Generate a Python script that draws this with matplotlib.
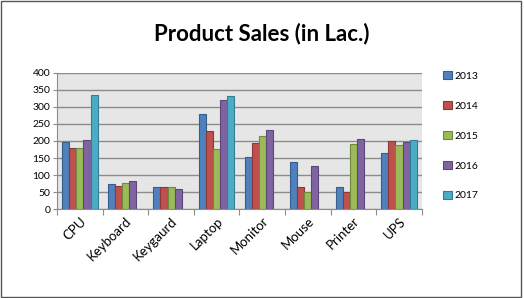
import numpy as np
import matplotlib.pyplot as plt
from matplotlib.patches import Rectangle

plt.rcParams['font.family'] = ['Lato', 'DejaVu Sans']

products = ['CPU', 'Keyboard', 'Keygaurd', 'Laptop', 'Monitor', 'Mouse', 'Printer', 'UPS']
years = ['2013', '2014', '2015', '2016', '2017']
# sales per year, nan where no bar
s2013 = [198, 73, 64, 280, 152, 139, 64, 166]
s2014 = [178, 67, 64, 229, 193, 64, 50, 200]
s2015 = [178, 77, 65, 175, 215, 50, 191, 187]
s2016 = [202, 83, 58, 319, 231, 127, 207, 198]
s2017 = [335, np.nan, np.nan, 331, np.nan, np.nan, np.nan, 202]
series = [s2013, s2014, s2015, s2016, s2017]

colors = ['#4F81BD', '#C0504D', '#9BBB59', '#8064A2', '#4BACC6']
edges = ['#385D8A', '#8C3836', '#71893F', '#5C4776', '#357D91']

fig = plt.figure(figsize=(5.24, 2.98), dpi=100)
fig.patches.append(Rectangle((0.002, 0.003), 0.992, 0.994, transform=fig.transFigure,
                             fill=False, edgecolor='#555555', linewidth=1))
ax = fig.add_axes([0.109, 0.298, 0.696, 0.458])
ax.set_facecolor('#e6e6e6')

x = np.arange(len(products))
w = 0.155
for i, (vals, yr) in enumerate(zip(series, years)):
    ax.bar(x + (i - 2) * w, vals, width=w, color=colors[i], edgecolor=edges[i],
           linewidth=0.8, label=yr, zorder=3)

ax.set_xlim(-0.5, len(products) - 0.5)
ax.set_ylim(0, 400)
ax.set_yticks(np.arange(0, 401, 50))
ax.yaxis.grid(True, color='#8c8c8c', linewidth=1, zorder=0)
ax.set_xticks(np.arange(-0.5, len(products), 1))
ax.set_xticklabels([])
ax.set_xticks(x, minor=True)
ax.set_xticklabels(products, minor=True, rotation=45, ha='right', rotation_mode='anchor', fontsize=9.5)
ax.tick_params(axis='x', which='minor', length=0, pad=4)
ax.tick_params(axis='x', which='major', length=4, color='#8c8c8c')
ax.tick_params(axis='y', labelsize=7.5, length=3, color='#8c8c8c', pad=2)
for side in ['top', 'right']:
    ax.spines[side].set_visible(False)
ax.spines['left'].set_color('#8c8c8c')
ax.spines['bottom'].set_color('#8c8c8c')

fig.suptitle('Product Sales (in Lac.)', x=0.5, y=0.925, fontsize=16, fontweight='bold')

fig.legend(loc='upper left', bbox_to_anchor=(0.838, 0.775), frameon=False, fontsize=7.5,
           handlelength=0.8, handleheight=0.8, handletextpad=0.3, labelspacing=1.95,
           borderaxespad=0)

fig.savefig('out.png', dpi=100)
